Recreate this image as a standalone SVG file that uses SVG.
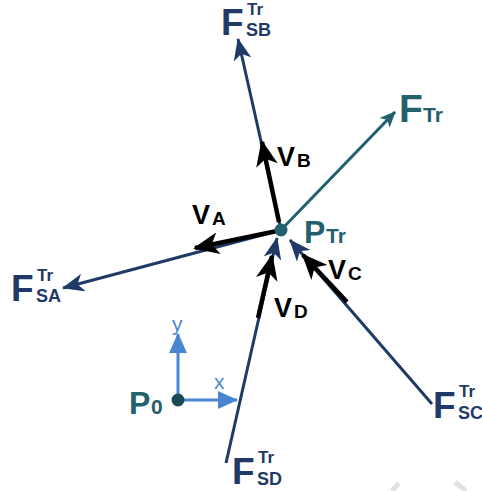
<svg xmlns="http://www.w3.org/2000/svg" width="482" height="491" viewBox="0 0 482 491">
<defs>
<style>
.f{stroke:#1f3a66;stroke-width:3;fill:none}
.ft{stroke:#23606d;stroke-width:3;fill:none}
.v{stroke:#000;stroke-width:4.5;fill:none}
.ax{stroke:#4a86d0;stroke-width:3;fill:none}
text{font-family:"Liberation Sans",Arial,sans-serif;font-weight:bold}
.nv{fill:#1f3a66}
.tl{fill:#23606d}
.bk{fill:#000}
.bl{fill:#4a86d0;font-weight:normal}
</style>
<marker id="mt" markerWidth="16" markerHeight="14" refX="15" refY="7" orient="auto" markerUnits="userSpaceOnUse" viewBox="0 0 16 14"><path d="M0,0 L16,7 L0,14 L4,7 Z" fill="#23606d"/></marker>
<marker id="mv" markerWidth="26" markerHeight="22" refX="24" refY="11" orient="auto" markerUnits="userSpaceOnUse" viewBox="0 0 26 22"><path d="M0,0 L26,11 L0,22 L7,11 Z" fill="#000"/></marker>
<marker id="ma" markerWidth="20" markerHeight="18" refX="19" refY="9" orient="auto" markerUnits="userSpaceOnUse" viewBox="0 0 20 18"><path d="M0,0 L20,9 L0,18 Z" fill="#4a86d0"/></marker>
<marker id="mfl" markerWidth="22" markerHeight="18" refX="21" refY="9" orient="auto" markerUnits="userSpaceOnUse" viewBox="0 0 22 18"><path d="M0,0 L22,9 L0,18 L6,9 Z" fill="#1f3a66"/></marker>
</defs>
<g id="connectors">
<line class="f" x1="281" y1="230" x2="238" y2="39" marker-end="url(#mfl)"/>
<line class="ft" x1="281" y1="230" x2="395" y2="112" marker-end="url(#mt)"/>
<line class="f" x1="281" y1="230" x2="63" y2="288" marker-end="url(#mfl)"/>
<line class="f" x1="432" y1="404" x2="290" y2="240" marker-end="url(#mfl)"/>
<line class="f" x1="226" y1="463" x2="277" y2="238" marker-end="url(#mfl)"/>
<line class="v" x1="279" y1="222" x2="262" y2="142" marker-end="url(#mv)"/>
<line class="v" x1="277" y1="231" x2="195" y2="248" marker-end="url(#mv)"/>
<line class="v" x1="347" y1="302" x2="303" y2="255" marker-end="url(#mv)"/>
<line class="v" x1="258" y1="318" x2="272" y2="256" marker-end="url(#mv)"/>
<line class="ax" x1="178" y1="400" x2="178" y2="334" marker-end="url(#ma)"/>
<line class="ax" x1="178" y1="400" x2="237" y2="400" marker-end="url(#ma)"/>
</g>
<g id="PTr">
<circle cx="281" cy="230" r="6.5" fill="#23606d"/>
<text x="304" y="243" class="tl" font-size="32">P</text>
<text x="326" y="243" class="tl" font-size="21">Tr</text>
</g>
<g id="FSB">
<text x="221" y="35" class="nv" font-size="37">F</text>
<text x="247" y="15" class="nv" font-size="17">Tr</text>
<text x="246" y="36" class="nv" font-size="18">SB</text>
</g>
<g id="FTr">
<text x="399" y="122" class="tl" font-size="39">F</text>
<text x="423" y="122" class="tl" font-size="21">Tr</text>
</g>
<g id="FSA">
<text x="11" y="301" class="nv" font-size="37">F</text>
<text x="37" y="281" class="nv" font-size="17">Tr</text>
<text x="36" y="302" class="nv" font-size="18">SA</text>
</g>
<g id="FSC">
<text x="433" y="418" class="nv" font-size="37">F</text>
<text x="459" y="397" class="nv" font-size="17">Tr</text>
<text x="458" y="419" class="nv" font-size="18">SC</text>
</g>
<g id="FSD">
<text x="232" y="484" class="nv" font-size="37">F</text>
<text x="258" y="463" class="nv" font-size="17">Tr</text>
<text x="257" y="485" class="nv" font-size="18">SD</text>
</g>
<g id="VB">
<text x="277" y="166" class="bk" font-size="27">V</text>
<text x="297" y="167" class="bk" font-size="19">B</text>
</g>
<g id="VA">
<text x="192" y="224" class="bk" font-size="27">V</text>
<text x="212" y="225" class="bk" font-size="19">A</text>
</g>
<g id="VC">
<text x="328" y="279" class="bk" font-size="27">V</text>
<text x="348" y="280" class="bk" font-size="19">C</text>
</g>
<g id="VD">
<text x="274" y="317" class="bk" font-size="27">V</text>
<text x="294" y="318" class="bk" font-size="19">D</text>
</g>
<g id="P0">
<circle cx="178" cy="400" r="6.5" fill="#1a4a52"/>
<text x="129" y="414" class="tl" font-size="32">P</text>
<text x="151" y="414" class="tl" font-size="21" font-weight="normal">0</text>
<text x="172" y="331" class="bl" font-size="21">y</text>
<text x="214" y="389" class="bl" font-size="21">x</text>
</g>
<g id="marks" stroke="#e2e2e2" stroke-width="5">
<line x1="392" y1="491" x2="399" y2="483"/>
<line x1="455" y1="482" x2="466" y2="491"/>
</g>
</svg>
